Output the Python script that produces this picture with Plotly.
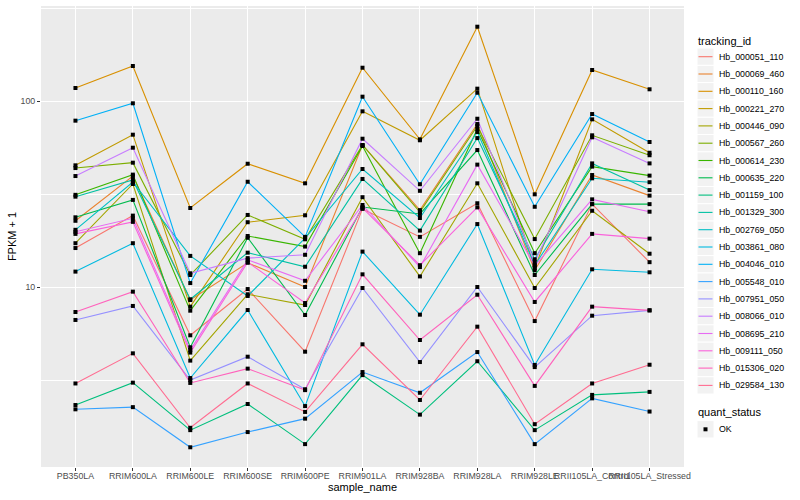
import plotly.graph_objects as go

samples = ["PB350LA", "RRIM600LA", "RRIM600LE", "RRIM600SE", "RRIM600PE", "RRIM901LA",
           "RRIM928BA", "RRIM928LA", "RRIM928LE", "RRII105LA_Control", "RRII105LA_Stressed"]

tracking_ids = ["Hb_000051_110", "Hb_000069_460", "Hb_000110_160", "Hb_000221_270",
                "Hb_000446_090", "Hb_000567_260", "Hb_000614_230", "Hb_000635_220",
                "Hb_001159_100", "Hb_001329_300", "Hb_002769_050", "Hb_003861_080",
                "Hb_004046_010", "Hb_005548_010", "Hb_007951_050", "Hb_008066_010",
                "Hb_008695_210", "Hb_009111_050", "Hb_015306_020", "Hb_029584_130"]

colors = ["#F8766D", "#EA8331", "#D89000", "#C09B00", "#A3A500", "#7CAE00", "#39B600",
          "#00BB4E", "#00BF7D", "#00C1A3", "#00BFC4", "#00BAE0", "#00B0F6", "#35A2FF",
          "#9590FF", "#C77CFF", "#E76BF3", "#FA62DB", "#FF62BC", "#FF6C91"]

# FPKM + 1 per sample, in the order of `samples`
hb_000051_110 = [16.2, 24.2, 5.50, 9.75, 4.49, 26.3, 18.6, 28.2, 6.56, 27.9, 13.6]
hb_000069_460 = [22.7, 39.5, 8.51, 13.5, 10.0, 58.0, 25.9, 75.2, 12.3, 40.0, 31.0]
hb_000110_160 = [117.5, 154.2, 26.6, 46.0, 36.1, 151.0, 62.2, 250.9, 31.5, 146.8, 115.6]
hb_000221_270 = [45.1, 65.9, 7.84, 22.3, 24.3, 88.0, 61.5, 116.5, 12.65, 79.7, 52.7]
hb_000446_090 = [17.2, 35.8, 4.02, 9.14, 8.00, 30.4, 11.4, 36.1, 9.88, 25.7, 15.1]
hb_000567_260 = [43.6, 46.6, 11.6, 24.4, 18.05, 58.0, 25.3, 73.4, 18.1, 65.4, 51.1]
hb_000614_230 = [31.3, 40.2, 7.46, 18.8, 16.5, 57.3, 15.2, 70.7, 15.2, 44.4, 39.7]
hb_000635_220 = [23.7, 29.4, 4.74, 18.4, 7.07, 26.9, 24.7, 54.5, 11.6, 27.9, 27.9]
hb_001159_100 = [2.32, 3.06, 1.70, 2.35, 1.43, 3.36, 2.06, 3.99, 1.70, 2.63, 2.73]
hb_001329_300 = [30.6, 37.6, 8.59, 15.3, 12.85, 38.1, 20.1, 63.2, 14.1, 46.2, 33.2]
hb_002769_050 = [20.3, 36.7, 14.7, 8.95, 18.3, 43.1, 23.5, 68.1, 13.1, 38.4, 36.6]
hb_003861_080 = [12.1, 17.2, 3.24, 7.52, 2.29, 15.5, 7.10, 21.8, 3.81, 12.45, 12.0]
hb_004046_010 = [78.4, 97.2, 10.5, 36.8, 18.6, 105.5, 35.7, 110.8, 27.0, 85.1, 60.2]
hb_005548_010 = [2.20, 2.26, 1.375, 1.66, 1.96, 3.49, 2.70, 4.47, 1.43, 2.52, 2.14]
hb_007951_050 = [6.65, 7.91, 3.16, 4.22, 2.82, 9.88, 3.95, 10.0, 3.71, 7.01, 7.49]
hb_008066_010 = [39.5, 56.1, 11.85, 14.3, 14.9, 62.7, 32.9, 80.3, 13.6, 63.8, 46.2]
hb_008695_210 = [19.8, 23.4, 4.58, 14.0, 10.8, 27.6, 12.8, 45.5, 13.0, 29.6, 25.4]
hb_009111_050 = [19.3, 22.4, 4.44, 13.6, 8.20, 26.6, 13.1, 26.8, 8.31, 19.3, 18.2]
hb_015306_020 = [7.34, 9.44, 3.05, 3.64, 2.79, 11.7, 5.19, 9.09, 2.94, 7.84, 7.49]
hb_029584_130 = [3.03, 4.40, 1.75, 3.03, 2.13, 4.92, 2.47, 6.12, 1.83, 3.03, 3.82]

series = [hb_000051_110, hb_000069_460, hb_000110_160, hb_000221_270, hb_000446_090,
          hb_000567_260, hb_000614_230, hb_000635_220, hb_001159_100, hb_001329_300,
          hb_002769_050, hb_003861_080, hb_004046_010, hb_005548_010, hb_007951_050,
          hb_008066_010, hb_008695_210, hb_009111_050, hb_015306_020, hb_029584_130]

quant_status = ["OK"]

FONT = "Liberation Sans, Arial, sans-serif"
W, H = 800, 500
ML, MR, MT, MB = 41, 116, 6, 33
PW, PH = W - ML - MR, H - MT - MB


def fx(px):
    return (px - ML) / PW


def fy(py):
    return (H - MB - py) / PH


fig = go.Figure()

for name, col, vals in zip(tracking_ids, colors, series):
    fig.add_trace(go.Scatter(
        x=samples, y=vals, mode="lines", name=name,
        line=dict(color=col, width=1.1), showlegend=False,
        hovertemplate=name + "<br>%{x}: %{y}<extra></extra>"))

all_x = [s for vals in series for s in samples]
all_y = [v for vals in series for v in vals]
fig.add_trace(go.Scatter(
    x=all_x, y=all_y, mode="markers", name=quant_status[0], showlegend=False,
    marker=dict(symbol="square", size=4, color="black"),
    hoverinfo="skip"))

# ---- ggplot-style legends drawn in paper space ----
shapes, annotations = [], []
KEY_X0, KEY_X1 = 697, 714
KEY_H = 17.3
TXT_X = 717


def add_title(text, py):
    annotations.append(dict(text=text, x=fx(696), y=fy(py), xref="paper", yref="paper",
                            xanchor="left", yanchor="middle", showarrow=False,
                            font=dict(size=11, color="black", family=FONT)))


def add_key(py):
    shapes.append(dict(type="rect", xref="paper", yref="paper",
                       x0=fx(KEY_X0), x1=fx(KEY_X1),
                       y0=fy(py - KEY_H / 2), y1=fy(py + KEY_H / 2),
                       fillcolor="#F2F2F2", line=dict(color="white", width=1),
                       layer="above"))


def add_label(text, py):
    annotations.append(dict(text=text, x=fx(TXT_X), y=fy(py), xref="paper", yref="paper",
                            xanchor="left", yanchor="middle", showarrow=False,
                            font=dict(size=8.8, color="black", family=FONT)))


add_title("tracking_id", 40.7)
for i, (name, col) in enumerate(zip(tracking_ids, colors)):
    cy = 56.7 + KEY_H * i
    add_key(cy)
    shapes.append(dict(type="line", xref="paper", yref="paper",
                       x0=fx(KEY_X0 + 1.5), x1=fx(KEY_X1 - 1.5), y0=fy(cy), y1=fy(cy),
                       line=dict(color=col, width=1.1), layer="above"))
    add_label(name, cy)

add_title("quant_status", 411.7)
ok_y = 429.3
add_key(ok_y)
mid = (KEY_X0 + KEY_X1) / 2
shapes.append(dict(type="rect", xref="paper", yref="paper",
                   x0=fx(mid - 2), x1=fx(mid + 2), y0=fy(ok_y - 2), y1=fy(ok_y + 2),
                   fillcolor="black", line=dict(width=0), layer="above"))
add_label(quant_status[0], ok_y)

fig.update_layout(
    width=W, height=H,
    margin=dict(l=ML, r=MR, t=MT, b=MB),
    paper_bgcolor="white", plot_bgcolor="#EBEBEB",
    font=dict(family=FONT, color="black"),
    showlegend=False,
    shapes=shapes, annotations=annotations,
)

fig.update_xaxes(
    type="category", categoryorder="array", categoryarray=samples,
    range=[-0.6, 10.6], automargin=False,
    showgrid=True, gridcolor="white", gridwidth=1.1,
    zeroline=False, showline=False, tickangle=0,
    ticks="outside", ticklen=3, tickwidth=1, tickcolor="#333333",
    ticklabelstandoff=-3,
    tickfont=dict(size=8.8, color="#4D4D4D", family=FONT),
    title=dict(text="sample_name", font=dict(size=11, color="black"), standoff=1),
)

fig.update_yaxes(
    type="log", range=[0.0323, 2.5108], automargin=False,
    tickvals=[10, 100], ticktext=["10", "100"],
    showgrid=True, gridcolor="white", gridwidth=1.1,
    minor=dict(tickvals=[10 ** 0.5, 10 ** 1.5, 10 ** 2.5], showgrid=True,
               gridcolor="white", gridwidth=0.5, ticks=""),
    zeroline=False, showline=False,
    ticks="outside", ticklen=3, tickwidth=1, tickcolor="#333333",
    tickfont=dict(size=8.8, color="#4D4D4D", family=FONT),
    title=dict(text="FPKM + 1", font=dict(size=11, color="black"), standoff=1),
)

fig.write_html("out.html",
               config={"displayModeBar": False},
               post_script="document.body.style.margin='0';document.body.style.padding='0';")
